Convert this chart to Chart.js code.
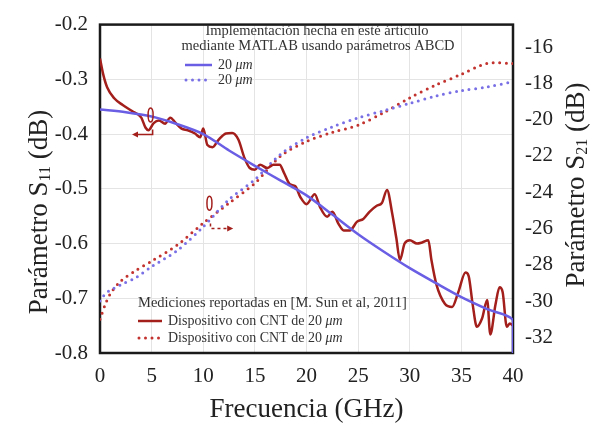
<!DOCTYPE html>
<html>
<head>
<meta charset="utf-8">
<script src="https://cdn.jsdelivr.net/npm/chart.js@4.4.0/dist/chart.umd.min.js"></script>
<style>
  body { margin: 0; background: #fff; }
</style>
</head>
<body>
<canvas id="myChart" width="599" height="425"></canvas>
<script>
const xTicks = [0, 5, 10, 15, 20, 25, 30, 35, 40]
const s11Ticks = [-0.8, -0.7, -0.6, -0.5, -0.4, -0.3, -0.2]
const s21Ticks = [-32, -30, -28, -26, -24, -22, -20, -18, -16]

// S11 simulado (MATLAB, ABCD)
const simFreq = [0, 2.5, 5, 7.5, 10, 12.5, 15, 17.5, 20, 22.5, 25, 27.5, 30, 32.5, 35, 37.5, 40, 40]
const simS11 = [-0.355, -0.36, -0.368, -0.382, -0.40, -0.43, -0.458, -0.485, -0.512, -0.547, -0.583, -0.615, -0.645, -0.672, -0.698, -0.72, -0.74, -0.80]

// S11 medido [M. Sun et al, 2011]
const medFreq = [0, 0.3, 0.7, 1.4, 2.2, 3.1, 4.0, 4.4, 4.7, 5.2, 5.7, 6.3, 6.8, 7.3, 7.9, 8.5, 9.2, 9.7, 10.0, 10.4,
  10.9, 11.5, 12.2, 12.8, 13.4, 14.0, 14.5, 15.0, 15.5, 16.2, 16.8, 17.4, 17.8, 18.4, 18.9, 19.4, 20.0, 20.8, 21.3, 22.0,
  22.5, 23.1, 23.6, 24.2, 24.9, 25.5, 26.1, 26.8, 27.3, 27.8, 28.3, 28.7, 29.05, 29.5, 30.0, 30.7, 31.2, 31.8, 32.1, 32.6,
  33.4, 34.1, 34.7, 35.4, 35.7, 36.1, 36.5, 37.0, 37.5, 37.8, 38.3, 38.7, 39.0, 39.4, 39.7, 40.0]
const medS11 = [-0.262, -0.29, -0.315, -0.335, -0.347, -0.358, -0.37, -0.388, -0.393, -0.38, -0.375, -0.381, -0.37, -0.379, -0.39, -0.393, -0.399, -0.406, -0.39, -0.42,
  -0.424, -0.41, -0.399, -0.398, -0.41, -0.444, -0.462, -0.465, -0.456, -0.462, -0.456, -0.456, -0.47, -0.492, -0.495, -0.515, -0.528, -0.51, -0.533, -0.551,
  -0.542, -0.564, -0.576, -0.576, -0.56, -0.555, -0.542, -0.531, -0.526, -0.502, -0.545, -0.59, -0.63, -0.6, -0.594, -0.6, -0.598, -0.594, -0.63, -0.676,
  -0.71, -0.716, -0.689, -0.653, -0.659, -0.712, -0.752, -0.737, -0.703, -0.766, -0.712, -0.68, -0.689, -0.752, -0.746, -0.75]

// S21 (eje derecho)
const s21Freq = [0, 0.5, 1, 2, 3.5, 5, 7.5, 10, 12.5, 15, 17.5, 20, 22.5, 25, 27.5, 30, 32.5, 35, 37.5, 40]
const medS21 = [-31.0, -30.2, -29.6, -28.9, -28.3, -27.8, -26.9, -25.7, -24.6, -23.5, -22.0, -21.2, -20.7, -20.3, -19.6, -18.8, -18.1, -17.5, -16.9, -16.9]
const simS21 = [-30.0, -29.6, -29.4, -29.1, -28.7, -28.1, -27.2, -25.9, -24.4, -23.3, -21.9, -21.0, -20.4, -19.9, -19.5, -19.1, -18.7, -18.4, -18.2, -17.9]

const SERIF = "'Liberation Serif', 'Times New Roman', serif"
const BLUE = '#6a5ee4'
const RED = '#a21f1c'
const RED_DOT = '#c2322e'
const BLUE_DOT = '#7a70e6'

function pts(xs, ys) {
  return xs.map((x, i) => ({ x: x, y: ys[i] }))
}

// texto con subindice
function drawSub(ctx, parts, cx, cy, rot) {
  ctx.save()
  ctx.translate(cx, cy)
  ctx.rotate(rot)
  let total = 0
  parts.forEach(p => { ctx.font = p.font; total += ctx.measureText(p.t).width })
  let x = -total / 2
  ctx.textBaseline = 'middle'
  ctx.textAlign = 'left'
  ctx.fillStyle = '#222'
  parts.forEach(p => {
    ctx.font = p.font
    ctx.fillText(p.t, x, p.dy || 0)
    x += ctx.measureText(p.t).width
  })
  ctx.restore()
}

function sample(ctx, x1, x2, y, color, dotted) {
  ctx.save()
  ctx.strokeStyle = color
  ctx.lineWidth = dotted ? 3 : 2.5
  if (dotted) { ctx.setLineDash([0, 6.5]); ctx.lineCap = 'round' }
  ctx.beginPath()
  ctx.moveTo(x1, y)
  ctx.lineTo(x2, y)
  ctx.stroke()
  ctx.restore()
}

function legendText(ctx, text, x, y) {
  ctx.font = '14px ' + SERIF
  ctx.fillText(text, x, y)
  const w = ctx.measureText(text).width
  ctx.font = 'italic 14px ' + SERIF
  ctx.fillText('\u03bcm', x + w, y)
}

const decorPlugin = {
  id: 'decor',
  beforeDatasetsDraw(chart) {
    const ctx = chart.ctx
    const a = chart.chartArea
    ctx.save()
    ctx.strokeStyle = '#1a1a1a'
    ctx.lineWidth = 2.5
    ctx.strokeRect(a.left, a.top, a.right - a.left, a.bottom - a.top)
    ctx.restore()
  },
  afterDatasetsDraw(chart) {
    const ctx = chart.ctx
    const x = chart.scales.x, y = chart.scales.y, y2 = chart.scales.y2
    ctx.save()
    // flecha S11 (hacia la izquierda)
    ctx.strokeStyle = RED
    ctx.fillStyle = RED
    ctx.lineWidth = 1.5
    const ay = y.getPixelForValue(-0.401)
    const ax1 = x.getPixelForValue(5.1), ax2 = x.getPixelForValue(3.1)
    ctx.beginPath()
    ctx.ellipse(x.getPixelForValue(4.9), y.getPixelForValue(-0.365), 2.5, 7, 0, 0, Math.PI * 2)
    ctx.stroke()
    ctx.beginPath()
    ctx.moveTo(ax1, ay - 5); ctx.lineTo(ax1, ay); ctx.lineTo(ax2 + 5, ay)
    ctx.stroke()
    ctx.beginPath()
    ctx.moveTo(ax2, ay); ctx.lineTo(ax2 + 6, ay - 3); ctx.lineTo(ax2 + 6, ay + 3); ctx.closePath()
    ctx.fill()
    // flecha S21 (hacia la derecha)
    const by = y2.getPixelForValue(-26.0)
    const bx1 = x.getPixelForValue(10.7), bx2 = x.getPixelForValue(12.9)
    ctx.beginPath()
    ctx.ellipse(x.getPixelForValue(10.6), y2.getPixelForValue(-24.6), 2.5, 7, 0, 0, Math.PI * 2)
    ctx.stroke()
    ctx.setLineDash([3, 3])
    ctx.beginPath()
    ctx.moveTo(bx1, by - 5); ctx.lineTo(bx1, by); ctx.lineTo(bx2 - 5, by)
    ctx.stroke()
    ctx.setLineDash([])
    ctx.beginPath()
    ctx.moveTo(bx2, by); ctx.lineTo(bx2 - 6, by - 3); ctx.lineTo(bx2 - 6, by + 3); ctx.closePath()
    ctx.fill()
    ctx.restore()
  },
  afterDraw(chart) {
    const ctx = chart.ctx
    const a = chart.chartArea
    // titulos de ejes
    drawSub(ctx, [{ t: 'Frecuencia (GHz)', font: '27px ' + SERIF }], (a.left + a.right) / 2, 410, 0)
    drawSub(ctx, [
      { t: 'Parámetro S', font: '27px ' + SERIF },
      { t: '11', font: '16px ' + SERIF, dy: 6 },
      { t: ' (dB)', font: '27px ' + SERIF }
    ], 40, 212, -Math.PI / 2)
    drawSub(ctx, [
      { t: 'Parámetro S', font: '27px ' + SERIF },
      { t: '21', font: '16px ' + SERIF, dy: 6 },
      { t: ' (dB)', font: '27px ' + SERIF }
    ], 577, 185, -Math.PI / 2)

    // leyenda superior
    ctx.save()
    ctx.fillStyle = '#333'
    ctx.textBaseline = 'middle'
    ctx.textAlign = 'center'
    ctx.font = '14.5px ' + SERIF
    ctx.fillText('Implementación hecha en esté árticulo', 317, 31)
    ctx.fillText('mediante MATLAB usando parámetros ABCD', 318, 46)
    ctx.textAlign = 'left'
    sample(ctx, 185, 212, 65, BLUE, false)
    sample(ctx, 186, 212, 80, BLUE_DOT, true)
    legendText(ctx, '20 ', 218, 65)
    legendText(ctx, '20 ', 218, 80)

    // leyenda inferior
    ctx.font = '14.5px ' + SERIF
    ctx.fillText('Mediciones reportadas en [M. Sun et al, 2011]', 138, 303)
    sample(ctx, 138, 162, 321, RED, false)
    sample(ctx, 139, 162, 338, RED_DOT, true)
    legendText(ctx, 'Dispositivo con CNT de 20 ', 168, 321)
    legendText(ctx, 'Dispositivo con CNT de 20 ', 168, 338)
    ctx.restore()
  }
}

const ctx = document.getElementById('myChart')
const myChart = new Chart(ctx, {
  type: 'line',
  data: {
    datasets: [
      {
        label: 'S11 simulado 20 um',
        data: pts(simFreq, simS11),
        yAxisID: 'y',
        borderColor: BLUE,
        borderWidth: 2.5,
        pointRadius: 0,
        tension: 0.3
      },
      {
        label: 'S11 medido 20 um',
        data: pts(medFreq, medS11),
        yAxisID: 'y',
        borderColor: RED,
        borderWidth: 2.5,
        pointRadius: 0,
        cubicInterpolationMode: 'monotone'
      },
      {
        label: 'S21 simulado 20 um',
        data: pts(s21Freq, simS21),
        yAxisID: 'y2',
        borderColor: BLUE_DOT,
        borderWidth: 3,
        borderDash: [0, 6.5],
        borderCapStyle: 'round',
        pointRadius: 0,
        tension: 0.3
      },
      {
        label: 'S21 medido 20 um',
        data: pts(s21Freq, medS21),
        yAxisID: 'y2',
        borderColor: RED_DOT,
        borderWidth: 3,
        borderDash: [0, 6.5],
        borderCapStyle: 'round',
        pointRadius: 0,
        tension: 0.3
      }
    ]
  },
  options: {
    responsive: false,
    animation: false,
    layout: { padding: { top: 17, left: 0, right: 0, bottom: 0 } },
    plugins: {
      legend: { display: false },
      tooltip: { enabled: false }
    },
    scales: {
      x: {
        type: 'linear',
        min: 0,
        max: 40,
        afterBuildTicks: s => { s.ticks = xTicks.map(v => ({ value: v })) },
        afterFit: s => { s.height = 72 },
        grid: { color: '#e4e4e4', drawTicks: false },
        border: { display: false },
        ticks: { color: '#222', font: { family: SERIF, size: 21 }, padding: 11 }
      },
      y: {
        position: 'left',
        min: -0.8,
        max: -0.2,
        afterBuildTicks: s => { s.ticks = s11Ticks.map(v => ({ value: v })) },
        afterFit: s => { s.width = 100 },
        grid: { color: '#e4e4e4', drawTicks: false },
        border: { display: false },
        ticks: { color: '#222', font: { family: SERIF, size: 21 }, padding: 12, callback: v => v.toFixed(1) }
      },
      y2: {
        position: 'right',
        min: -32.86,
        max: -14.76,
        afterBuildTicks: s => { s.ticks = s21Ticks.map(v => ({ value: v })) },
        afterFit: s => { s.width = 86 },
        grid: { display: false, drawTicks: false },
        border: { display: false },
        ticks: { color: '#222', font: { family: SERIF, size: 21 }, padding: 12, callback: v => String(v) }
      }
    }
  },
  plugins: [decorPlugin]
})
</script>
</body>
</html>
